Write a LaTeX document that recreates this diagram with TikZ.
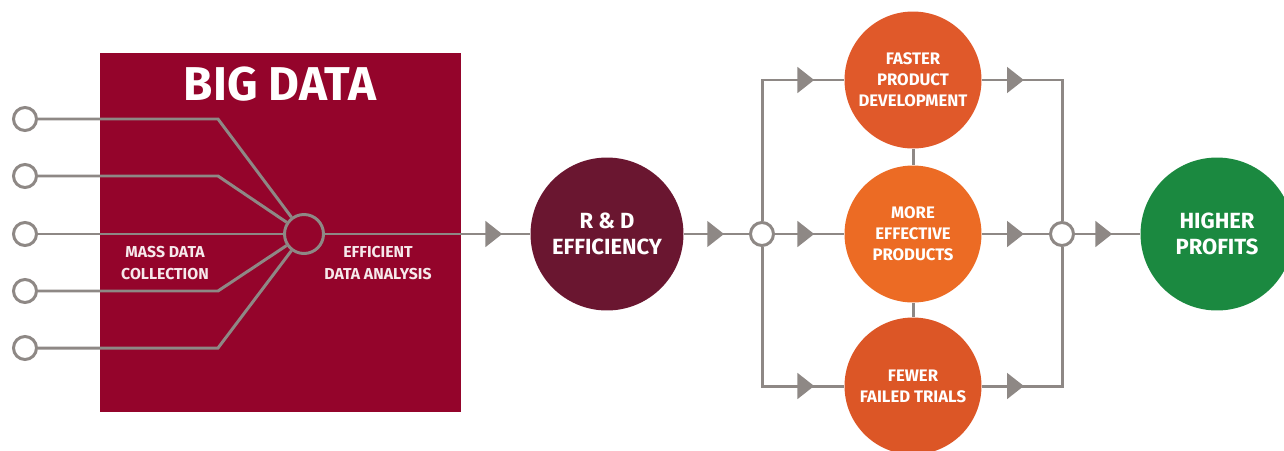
\documentclass[tikz,border=0pt]{standalone}
\usepackage{fontspec}
\setmainfont{Fira Sans}
\usetikzlibrary{arrows.meta,decorations.markings}
\definecolor{bigred}{HTML}{94042B}
\definecolor{maroon}{HTML}{6A1630}
\definecolor{orangetop}{HTML}{E0592A}
\definecolor{orangemid}{HTML}{EC6B24}
\definecolor{orangelow}{HTML}{DC5626}
\definecolor{profitgreen}{HTML}{1B8940}
\definecolor{wiregray}{HTML}{8E8885}
\definecolor{paletext}{HTML}{F6E9EB}
\tikzset{
  wire/.style={color=wiregray, line width=1.7pt},
  tipat/.style={postaction={decorate}, decoration={markings,
    mark=at position #1 with {\arrow{Triangle[length=9.5pt,width=14.5pt]}}}},
  pin/.style={circle, draw=wiregray, line width=1.7pt, fill=white,
    minimum size=0.46cm, inner sep=0pt},
  hubdot/.style={pin, fill=bigred, minimum size=0.78cm},
  ball/.style={circle, minimum size=2.74cm, inner sep=0pt, text=white,
    align=center, font=\bfseries\fontsize{9.5pt}{12pt}\selectfont},
  bigball/.style={ball, minimum size=3.06cm, font=\bfseries\fontsize{12.5pt}{15pt}\selectfont},
  boxlab/.style={text=paletext, align=center, font=\bfseries\fontsize{9pt}{12pt}\selectfont},
}

\begin{document}
\begin{tikzpicture}[x=0.02cm, y=-0.02cm]
  \useasboundingbox (0,0) rectangle (1284,450);
  % big data block with its collector wires
  \node[fill=bigred, minimum width=7.22cm, minimum height=7.18cm, inner sep=0pt] (bd) at (280.5,232.5) {};
  \node[text=white, font=\bfseries\fontsize{27pt}{30pt}\selectfont] (bdtitle) at (280,84) {BIG DATA};
  \node[hubdot] (hub) at (304,234) {};
  \foreach \i/\y in {1/119, 2/176, 3/234, 4/291, 5/348} {
    \node[pin] (in\i) at (25,\y) {};
    \draw[wire] (in\i) -- ++(193,0) -- (hub);
  }
  \node[boxlab] (mass) at (165,263) {MASS DATA\\COLLECTION};
  \node[boxlab] (anal) at (378,263) {EFFICIENT\\DATA ANALYSIS};
  % chain to the right
  \node[bigball, fill=maroon] (rd) at (607,234) {R \& D\\EFFICIENCY};
  \node[pin] (jl) at (762,234) {};
  \node[ball, fill=orangetop] (fast) at (913,80) {FASTER\\PRODUCT\\DEVELOPMENT};
  \node[ball, fill=orangemid] (eff) at (913,234) {MORE\\EFFECTIVE\\PRODUCTS};
  \node[ball, fill=orangelow] (few) at (913,386) {FEWER\\FAILED TRIALS};
  \node[pin] (jr) at (1062,234) {};
  \node[bigball, fill=profitgreen] (prof) at (1217,234) {HIGHER\\PROFITS};
  \draw[wire, tipat=-0.56cm] (hub) -- (rd);
  \draw[wire, tipat=-0.5cm] (rd) -- (jl);
  \draw[wire, tipat=-0.6cm] (jl) |- (fast);
  \draw[wire, tipat=-0.6cm] (jl) -- (eff);
  \draw[wire, tipat=-0.6cm] (jl) |- (few);
  \draw[wire, tipat=0.84cm] (fast) -| (jr);
  \draw[wire, tipat=0.84cm] (eff) -- (jr);
  \draw[wire, tipat=0.84cm] (few) -| (jr);
  \draw[wire] (fast) -- (eff);
  \draw[wire] (eff) -- (few);
  \draw[wire, tipat=-0.56cm] (jr) -- (prof);
\end{tikzpicture}
\end{document}
